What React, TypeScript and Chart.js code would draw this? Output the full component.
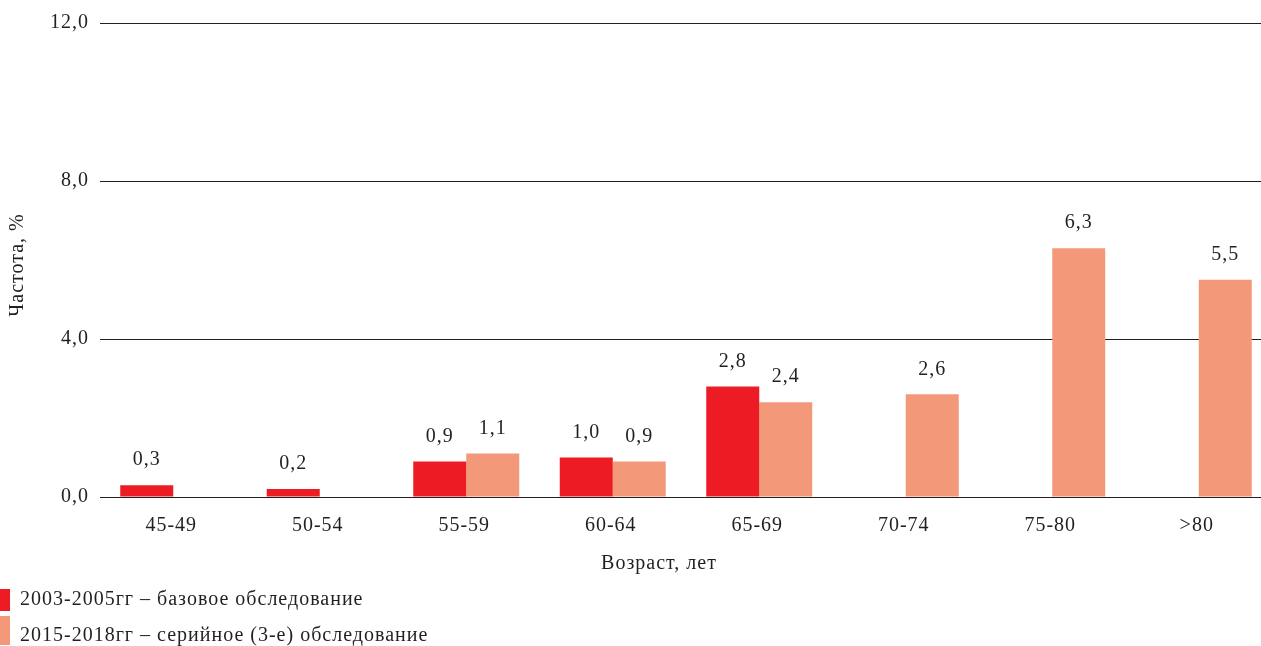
import React, { useEffect, useRef } from "react";
import { Chart, registerables } from "chart.js";

Chart.register(...registerables);

// Age groups and the two survey series (percent)
const categories = ["45-49", "50-54", "55-59", "60-64", "65-69", "70-74", "75-80", ">80"];
const baseline: (number | null)[] = [0.3, 0.2, 0.9, 1.0, 2.8, null, null, null];
const serial: (number | null)[] = [null, null, 1.1, 0.9, 2.4, 2.6, 6.3, 5.5];
const seriesNames = [
  "2003-2005гг – базовое обследование",
  "2015-2018гг – серийное (3-е) обследование",
];
const yTicks = [0, 4, 8, 12];
const xTitle = "Возраст, лет";
const yTitle = "Частота, %";

const RED = "#ED1C24";
const SALMON = "#F4987A";
const INK = "#231F20";
const FONT = "'Liberation Serif', 'Times New Roman', serif";
const SPACING = "1px";

const fmt = (v: number) => v.toFixed(1).replace(".", ",");

// Visible frame and the slightly wider drawing surface (the last group runs to the edge)
const W = 1261;
const CANVAS_W = 1272;
const H = 646;

// Slightly tracked type for every text on the canvas
const tracking = {
  id: "tracking",
  beforeDraw(chart: any) {
    chart.ctx.letterSpacing = SPACING;
  },
};

// Value labels above bars
const valueLabels = {
  id: "valueLabels",
  afterDatasetsDraw(chart: any) {
    const ctx = chart.ctx;
    ctx.save();
    ctx.letterSpacing = SPACING;
    ctx.font = `20px ${FONT}`;
    ctx.fillStyle = INK;
    ctx.textAlign = "center";
    ctx.textBaseline = "middle";
    chart.data.datasets.forEach((ds: any, i: number) => {
      const meta = chart.getDatasetMeta(i);
      meta.data.forEach((el: any, j: number) => {
        const v = ds.data[j];
        if (v === null || v === undefined) return;
        ctx.fillText(fmt(v), el.x, el.y - 25);
      });
    });
    ctx.restore();
  },
};

// Axis titles and the legend block under the plot
const decorations = {
  id: "decorations",
  afterDraw(chart: any) {
    const ctx = chart.ctx;
    ctx.save();
    ctx.letterSpacing = SPACING;
    ctx.fillStyle = INK;
    ctx.font = `20px ${FONT}`;
    ctx.textAlign = "center";
    ctx.textBaseline = "middle";
    ctx.fillText(xTitle, 659, 564);

    ctx.save();
    ctx.translate(18, 265);
    ctx.rotate(-Math.PI / 2);
    ctx.fillText(yTitle, 0, 0);
    ctx.restore();

    const colors = [RED, SALMON];
    const rows = [
      { top: 589, h: 22, cy: 600 },
      { top: 616, h: 29, cy: 636 },
    ];
    ctx.textAlign = "left";
    rows.forEach((r, i) => {
      ctx.fillStyle = colors[i];
      ctx.fillRect(0, r.top, 10, r.h);
      ctx.fillStyle = INK;
      ctx.fillText(seriesNames[i], 20, r.cy);
    });
    ctx.restore();
  },
};

export default function App() {
  const ref = useRef<HTMLCanvasElement | null>(null);

  useEffect(() => {
    document.body.style.margin = "0";
    const canvas = ref.current;
    if (!canvas) return;
    const chart = new Chart(canvas, {
      type: "bar",
      data: {
        labels: categories,
        datasets: [
          { label: seriesNames[0], data: baseline, backgroundColor: RED, borderWidth: 0 },
          { label: seriesNames[1], data: serial, backgroundColor: SALMON, borderWidth: 0 },
        ],
      },
      options: {
        responsive: false,
        animation: false,
        datasets: {
          bar: { barPercentage: 1, categoryPercentage: 0.7235 },
        },
        layout: { padding: { top: 22, right: 0, bottom: 0, left: 0 } },
        plugins: {
          legend: { display: false },
          tooltip: { enabled: false },
        },
        scales: {
          x: {
            grid: { display: false, drawTicks: false },
            border: { display: false },
            ticks: {
              color: INK,
              font: { family: FONT, size: 20 },
              padding: 17,
              labelOffset: -2,
              maxRotation: 0,
              autoSkip: false,
            },
            afterFit: (s: any) => {
              s.height = H - 22 - 475;
            },
          },
          y: {
            min: 0,
            max: 12,
            afterBuildTicks: (s: any) => {
              s.ticks = yTicks.map((v) => ({ value: v }));
            },
            grid: { color: INK, lineWidth: 1, drawTicks: false },
            border: { display: false },
            ticks: {
              color: INK,
              font: { family: FONT, size: 20 },
              padding: 11,
              callback: (v: any) => fmt(Number(v)),
            },
            afterFit: (s: any) => {
              s.width = 100;
            },
          },
        },
      },
      plugins: [tracking, valueLabels, decorations],
    });
    return () => chart.destroy();
  }, []);

  return (
    <div style={{ width: W, height: H, overflow: "hidden" }}>
      <canvas ref={ref} width={CANVAS_W} height={H} style={{ display: "block" }} />
    </div>
  );
}
